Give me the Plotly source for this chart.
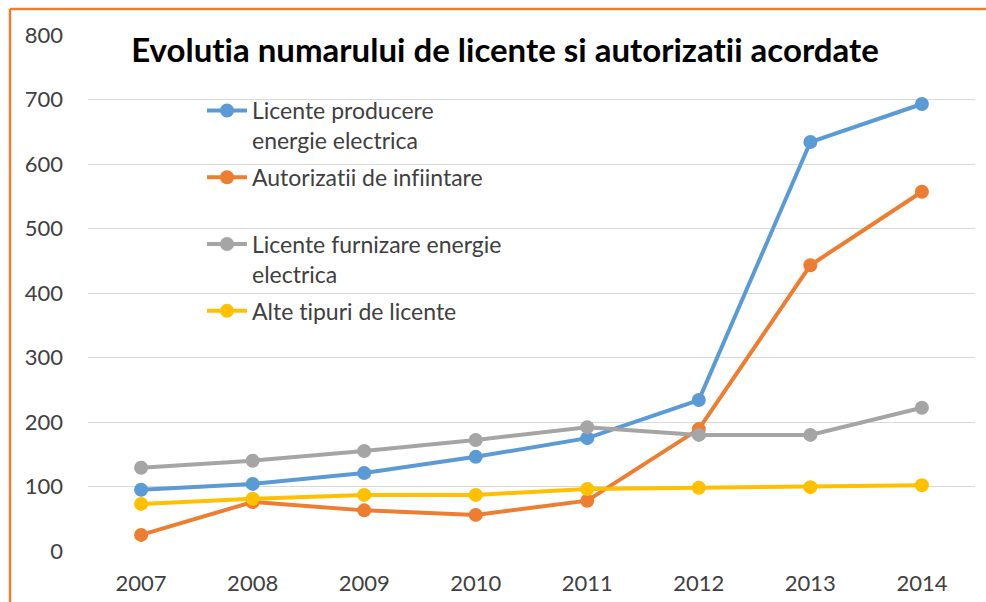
import plotly.graph_objects as go

years = ["2007", "2008", "2009", "2010", "2011", "2012", "2013", "2014"]
licente_producere = [95, 104, 121, 146, 175, 234, 634, 693]
autorizatii_infiintare = [25, 76, 63, 56, 78, 189, 443, 557]
licente_furnizare = [129, 140, 155, 172, 192, 180, 180, 222]
alte_licente = [73, 81, 87, 87, 96, 98, 99, 102]

series_names = [
    "Licente producere<br>energie electrica",
    "Autorizatii de infiintare<br>&nbsp;",
    "Licente furnizare energie<br>electrica",
    "Alte tipuri de licente<br>&nbsp;",
]
series_values = [licente_producere, autorizatii_infiintare, licente_furnizare, alte_licente]
colors = ["#5B9BD5", "#ED7D31", "#A5A5A5", "#FFC000"]

title_text = "Evolutia numarului de licente si autorizatii acordate"
y_ticks = [0, 100, 200, 300, 400, 500, 600, 700, 800]

FONT = "Lato"

fig = go.Figure()
for i, (name, vals, col) in enumerate(zip(series_names, series_values, colors)):
    fig.add_trace(go.Scatter(
        x=years, y=vals, name=name, mode="lines+markers",
        line=dict(color=col, width=4),
        marker=dict(color=col, size=14),
        legendgroup=f"g{i}",
    ))

W, H = 986, 602
ml, mr, mt, mb = 88, 11, 34, 50
pw, ph = W - ml - mr, H - mt - mb

def px_x(px):
    return (px - ml) / pw

def px_y(py):
    return (H - mb - py) / ph

fig.update_layout(
    width=W, height=H,
    margin=dict(l=ml, r=mr, t=mt, b=mb, pad=0, autoexpand=False),
    paper_bgcolor="white", plot_bgcolor="white",
    font=dict(family=FONT, color="#404040"),
    title=dict(
        text=f"<b>{title_text}</b>",
        x=505 / W, xanchor="center", xref="container",
        y=1 - 50 / H, yanchor="middle", yref="container",
        font=dict(family=FONT, size=33, color="black"),
    ),
    showlegend=True,
    legend=dict(
        x=px_x(202), xanchor="left",
        y=px_y(89), yanchor="top",
        bgcolor="rgba(0,0,0,0)",
        font=dict(family=FONT, size=23, color="#404040"),
        valign="top",
        tracegroupgap=4,
        itemwidth=40,
    ),
    xaxis=dict(
        type="category", showgrid=False, showline=False, zeroline=False,
        ticks="", tickfont=dict(size=22, color="#404040"),
        ticklabelstandoff=16, automargin=False,
    ),
    yaxis=dict(
        range=[-1.55, 801.55], tickvals=y_ticks, showgrid=True,
        gridcolor="#D9D9D9", gridwidth=1, zeroline=False, showline=False,
        ticks="", tickfont=dict(size=22, color="#404040"),
        ticklabelstandoff=24, automargin=False,
    ),
    shapes=[
        dict(type="line", xref="paper", yref="paper",
             x0=px_x(10), x1=px_x(10), y0=px_y(620), y1=px_y(9),
             line=dict(color="#ED7D31", width=2.5)),
        dict(type="line", xref="paper", yref="paper",
             x0=px_x(10), x1=px_x(1000), y0=px_y(9), y1=px_y(9),
             line=dict(color="#ED7D31", width=2.5)),
    ],
)

post = (
    "document.body.style.margin='0';"
    "var s=document.createElement('style');"
    "s.textContent='text{font-variant-ligatures:none;font-feature-settings:\"liga\" 0;}';"
    "document.head.appendChild(s);"
)
fig.write_html("out.html", config={"displayModeBar": False}, post_script=post)
